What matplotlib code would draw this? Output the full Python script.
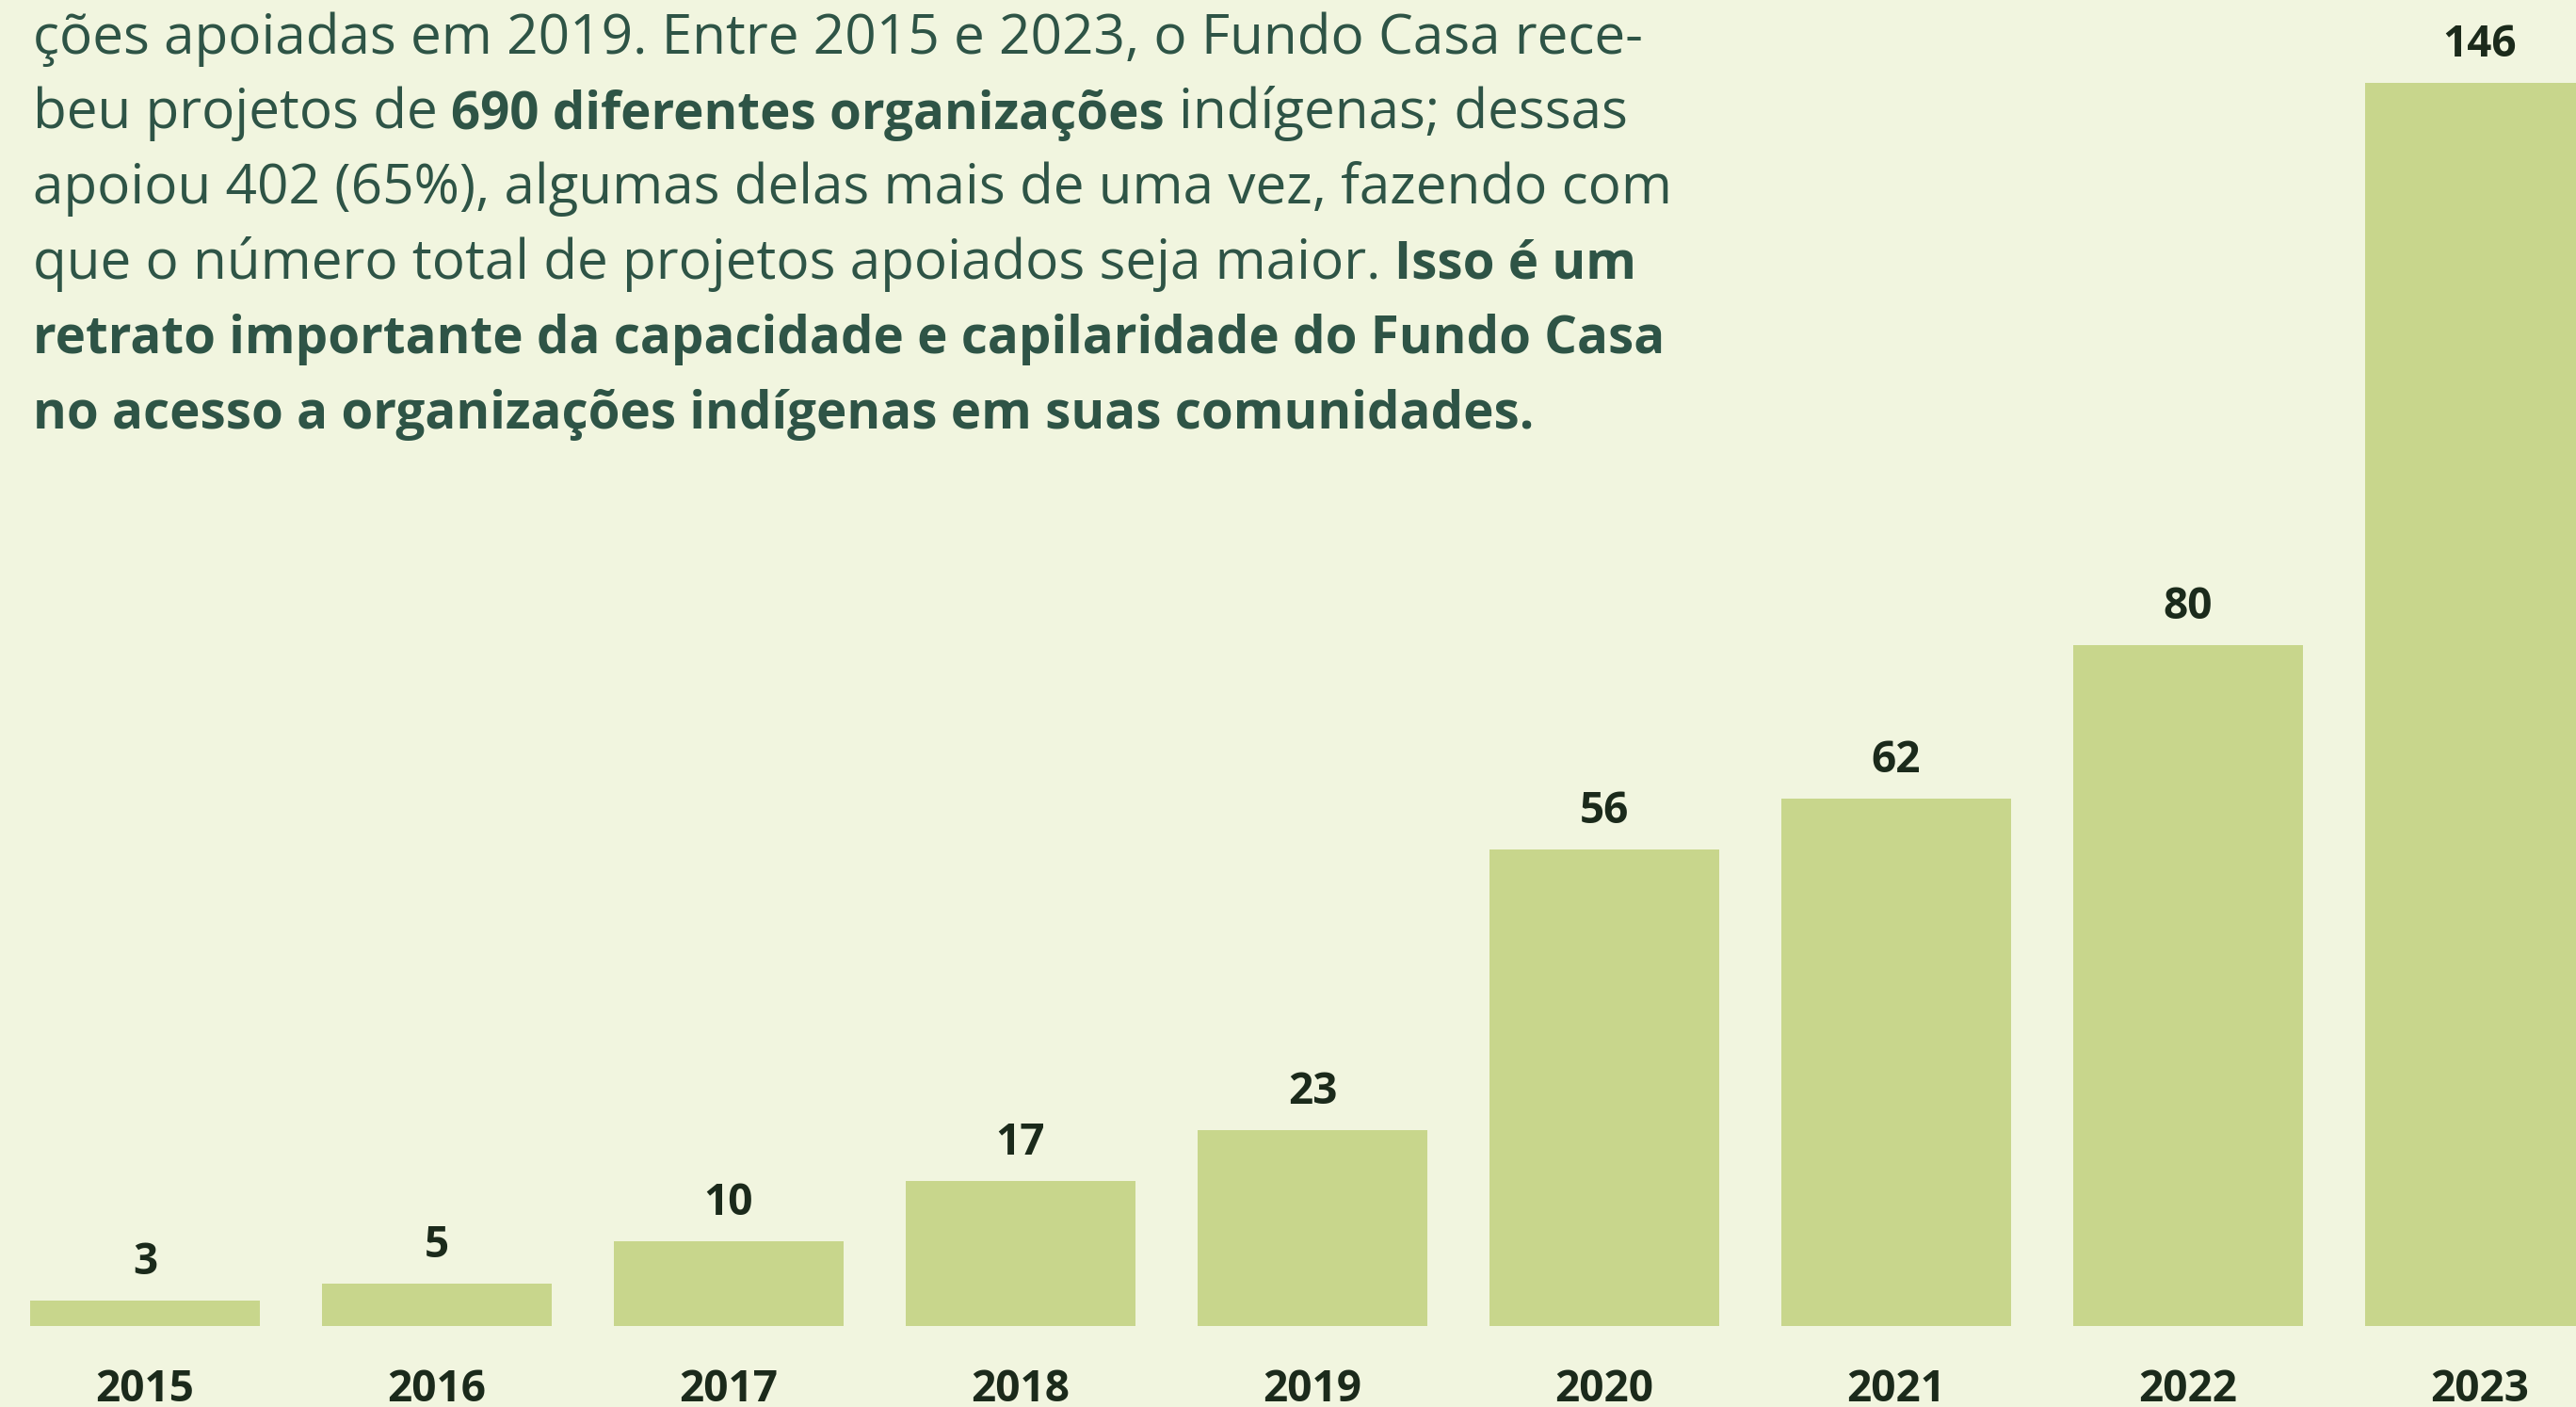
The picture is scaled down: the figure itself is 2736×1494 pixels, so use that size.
import matplotlib
matplotlib.use("Agg")
import matplotlib.pyplot as plt
import numpy as np

# ---- data ----
years = ["2015", "2016", "2017", "2018", "2019", "2020", "2021", "2022", "2023"]
values = [3, 5, 10, 17, 23, 56, 62, 80, 146]

# paragraph lines: list of (text, bold) segments
paragraph = [
    [("ções apoiadas em 2019. Entre 2015 e 2023, o Fundo Casa rece-", False)],
    [("beu projetos de", False), ("690 diferentes organizações", True), ("indígenas; dessas", False)],
    [("apoiou 402 (65%), algumas delas mais de uma vez, fazendo com", False)],
    [("que o número total de projetos apoiados seja maior.", False), ("Isso é um", True)],
    [("retrato importante da capacidade e capilaridade do Fundo Casa", True)],
    [("no acesso a organizações indígenas em suas comunidades.", True)],
]

# ---- style ----
BG = "#f1f5df"
BAR = "#c8d68c"
TXT = "#2e5446"
LBL = "#1b2a1b"
W, H = 2736, 1494
FONT = ["Open Sans", "DejaVu Sans"]

fig = plt.figure(figsize=(W / 100, H / 100), dpi=100)
fig.patch.set_facecolor(BG)
ax = fig.add_axes([0, 0, 1, 1])
ax.set_facecolor(BG)
ax.axis("off")

pitch = 310.0
x0 = 154.0
base_y = 1408.0
ppu = 9.04
x = np.arange(len(values))
ax.bar(x, values, width=244 / pitch, color=BAR, linewidth=0)
ax.set_xlim(-x0 / pitch, (W - x0) / pitch)
ax.set_ylim(-(H - base_y) / ppu, base_y / ppu)

for i, v in enumerate(values):
    ax.annotate(str(v), (i, v), xytext=(0, 28), textcoords="offset pixels",
                ha="center", va="baseline", fontsize=33, fontweight="bold",
                color=LBL, family=FONT)
    ax.text(i, 6 / H, years[i], transform=ax.get_xaxis_transform(),
            ha="center", va="baseline", fontsize=33, fontweight="bold",
            color=LBL, family=FONT)

# ---- paragraph ----
renderer = fig.canvas.get_renderer()


def text_width(s, size, bold):
    t = fig.text(0, 0, s, fontsize=size, fontweight="bold" if bold else "normal", family=FONT)
    w = t.get_window_extent(renderer).width
    t.remove()
    return w


probe = 30.0
size_reg = probe * 1710.0 / text_width(paragraph[0][0][0], probe, False)
size_bold = probe * 1733.0 / text_width(paragraph[4][0][0], probe, True)

left = 35.0
first_base = 57.0
spacing = 79.5
for li, line in enumerate(paragraph):
    y = first_base + spacing * li
    xpos = left
    for si, (s, bold) in enumerate(line):
        size = size_bold if bold else size_reg
        if si > 0:
            xpos += text_width("x x", size, bold) - text_width("xx", size, bold)
        fig.text(xpos / W, 1 - y / H, s, fontsize=size,
                 fontweight="bold" if bold else "normal", family=FONT,
                 color=TXT, ha="left", va="baseline")
        xpos += text_width(s, size, bold)

fig.savefig("out.png", dpi=100, facecolor=BG)
